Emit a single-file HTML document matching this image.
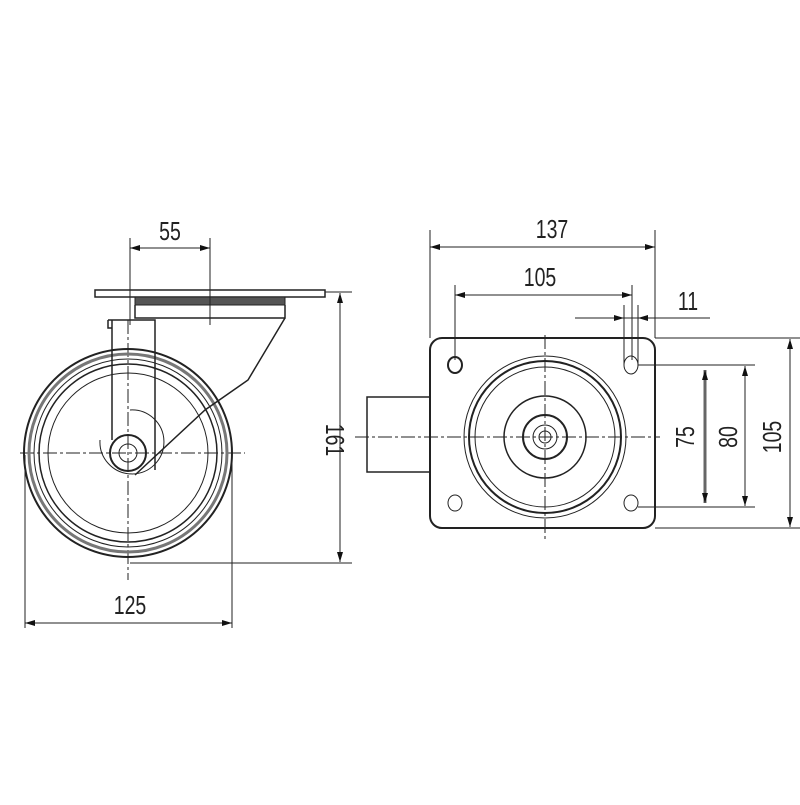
<!DOCTYPE html>
<html><head><style>body{margin:0;background:#fff}svg text{font-family:"Liberation Sans",sans-serif;font-size:26px;fill:#222}</style></head><body>
<svg width="800" height="800" viewBox="0 0 800 800" xmlns="http://www.w3.org/2000/svg">
<defs><marker id="a" viewBox="0 0 10 6" refX="10" refY="3" markerWidth="14" markerHeight="6" orient="auto-start-reverse" markerUnits="userSpaceOnUse"><path d="M0,0L10,3L0,6z" fill="#111"/></marker></defs>
<g stroke="#222" fill="none" stroke-width="1">
<line x1="20" y1="453" x2="245" y2="453" stroke-dasharray="14,3,3,3"/>
<line x1="128" y1="320" x2="128" y2="580" stroke-dasharray="14,3,3,3"/>
<circle cx="128" cy="453" r="104" stroke-width="2"/>
<circle cx="128" cy="453" r="99" stroke="#777" stroke-width="3"/>
<circle cx="128" cy="453" r="94"/>
<circle cx="128" cy="453" r="89" stroke-width="1.5"/>
<circle cx="128" cy="453" r="80"/>
<path d="M100,440 a32,32 0 1 0 30,-30" />
<circle cx="128" cy="453" r="18" stroke-width="2"/>
<circle cx="128" cy="453" r="9"/>
<rect x="95" y="290" width="230" height="7" fill="#fff" stroke-width="1.5"/>
<rect x="135" y="297" width="150" height="8" fill="#555"/>
<path d="M135,305 V318 H285 V305 M285,318 L248,380 L205,410 L135,475" stroke-width="1.5"/>
<path d="M108,320 H155 V470 M112,320 V440 M108,320 v8 h4" stroke-width="1.5"/>
<line x1="130" y1="238" x2="130" y2="325"/><line x1="210" y1="238" x2="210" y2="325"/>
<line x1="130" y1="248" x2="210" y2="248" marker-start="url(#a)" marker-end="url(#a)"/>
<line x1="325" y1="292" x2="352" y2="292"/><line x1="130" y1="563" x2="352" y2="563"/>
<line x1="340" y1="293" x2="340" y2="562" marker-start="url(#a)" marker-end="url(#a)"/>
<line x1="25" y1="455" x2="25" y2="628"/><line x1="232" y1="455" x2="232" y2="628"/>
<line x1="25" y1="623" x2="232" y2="623" marker-start="url(#a)" marker-end="url(#a)"/>
<rect x="367" y="397" width="63" height="75" stroke-width="1.5"/>
<rect x="430" y="338" width="225" height="190" rx="12" stroke-width="2" fill="#fff"/>
<line x1="355" y1="437" x2="660" y2="437" stroke-dasharray="14,3,3,3"/>
<line x1="545" y1="335" x2="545" y2="540" stroke-dasharray="14,3,3,3"/>
<circle cx="545" cy="437" r="81"/>
<circle cx="545" cy="437" r="76" stroke-width="2"/>
<circle cx="545" cy="437" r="70"/>
<circle cx="545" cy="437" r="41" stroke-width="1.5"/>
<circle cx="545" cy="437" r="22" stroke-width="2"/>
<circle cx="545" cy="437" r="12"/>
<circle cx="545" cy="437" r="6"/>
<ellipse cx="455" cy="365" rx="7" ry="8" stroke-width="2"/>
<ellipse cx="631" cy="365" rx="7" ry="9"/>
<ellipse cx="455" cy="503" rx="7" ry="8"/>
<ellipse cx="631" cy="503" rx="7" ry="8"/>
<line x1="430" y1="230" x2="430" y2="338"/><line x1="655" y1="230" x2="655" y2="338"/>
<line x1="430" y1="247" x2="655" y2="247" marker-start="url(#a)" marker-end="url(#a)"/>
<line x1="455" y1="285" x2="455" y2="360"/><line x1="632" y1="285" x2="632" y2="360"/>
<line x1="455" y1="295" x2="632" y2="295" marker-start="url(#a)" marker-end="url(#a)"/>
<line x1="624" y1="305" x2="624" y2="365"/><line x1="638" y1="305" x2="638" y2="365"/>
<line x1="575" y1="318" x2="710" y2="318"/>
<line x1="598" y1="318" x2="624" y2="318" marker-end="url(#a)"/>
<line x1="664" y1="318" x2="638" y2="318" marker-end="url(#a)"/>
<line x1="638" y1="365" x2="755" y2="365"/><line x1="638" y1="507" x2="755" y2="507"/>
<line x1="655" y1="338" x2="800" y2="338"/><line x1="655" y1="528" x2="800" y2="528"/>
<line x1="705" y1="370" x2="705" y2="503" stroke-width="3" stroke="#666" marker-start="url(#a)" marker-end="url(#a)"/>
<line x1="745" y1="366" x2="745" y2="506" marker-start="url(#a)" marker-end="url(#a)"/>
<line x1="790" y1="339" x2="790" y2="527" marker-start="url(#a)" marker-end="url(#a)"/>
</g>
<text x="170" y="240" text-anchor="middle" transform="translate(170 0) scale(0.75 1) translate(-170 0)">55</text>
<text x="130" y="614" text-anchor="middle" transform="translate(130 0) scale(0.75 1) translate(-130 0)">125</text>
<text transform="translate(326 440) rotate(90) scale(0.75 1)" text-anchor="middle">161</text>
<text x="552" y="238" text-anchor="middle" transform="translate(552 0) scale(0.75 1) translate(-552 0)">137</text>
<text x="540" y="286" text-anchor="middle" transform="translate(540 0) scale(0.75 1) translate(-540 0)">105</text>
<text x="688" y="310" text-anchor="middle" transform="translate(688 0) scale(0.75 1) translate(-688 0)">11</text>
<text transform="translate(694 437) rotate(-90) scale(0.75 1)" text-anchor="middle">75</text>
<text transform="translate(737 437) rotate(-90) scale(0.75 1)" text-anchor="middle">80</text>
<text transform="translate(781 437) rotate(-90) scale(0.75 1)" text-anchor="middle">105</text>
</svg>
</body></html>
